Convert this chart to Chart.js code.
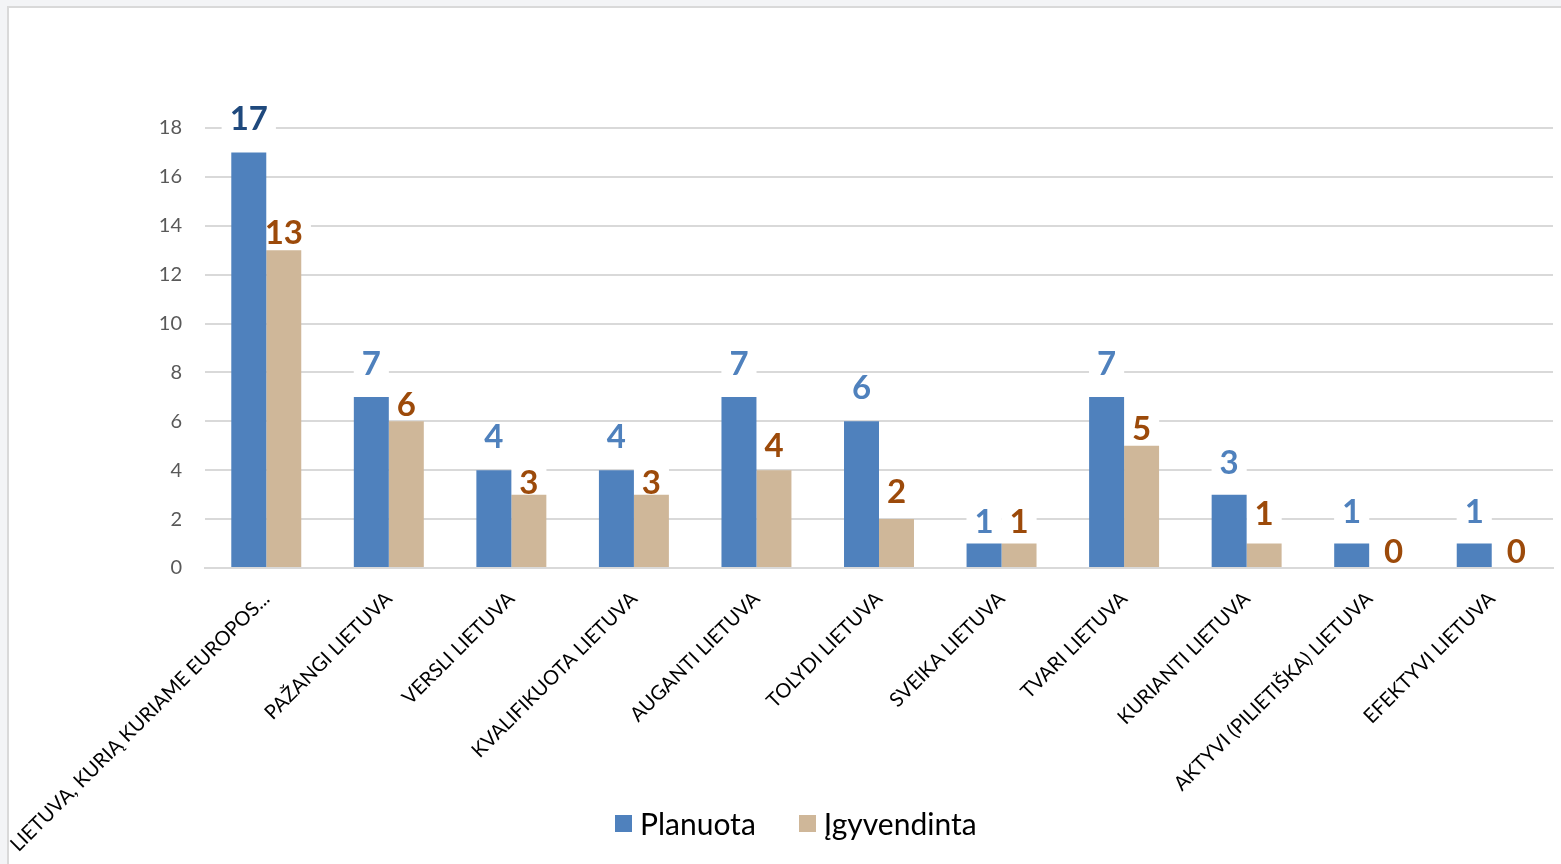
<!DOCTYPE html>
<html>
<head>
<meta charset="utf-8">
<script src="https://cdn.jsdelivr.net/npm/chart.js@4"></script>
<style>
  html, body { margin: 0; padding: 0; background: #f3f4f6; overflow: hidden; }
  #frame {
    position: absolute; left: 7px; top: 6px;
    width: 1560px; height: 864px;
    background: #fff; border: 2px solid #d9d9d9;
  }
  #chart1 { display: block; }
  #legend {
    position: absolute; left: 615px; top: 805px;
    display: flex; align-items: center;
    font-family: Lato, "Open Sans", sans-serif; font-size: 30px; color: #000;
  }
  #legend .item { display: flex; align-items: center; margin-right: 43px; }
  #legend .box { width: 17px; height: 17px; margin-right: 8px; }
</style>
</head>
<body>
<div id="frame"><canvas id="chart1" width="1552" height="856"></canvas></div>
<div id="legend"></div>
<script>
const categories = [
  'LIETUVA, KURIĄ KURIAME EUROPOS...',
  'PAŽANGI LIETUVA',
  'VERSLI LIETUVA',
  'KVALIFIKUOTA LIETUVA',
  'AUGANTI LIETUVA',
  'TOLYDI LIETUVA',
  'SVEIKA LIETUVA',
  'TVARI LIETUVA',
  'KURIANTI LIETUVA',
  'AKTYVI (PILIETIŠKA) LIETUVA',
  'EFEKTYVI LIETUVA'
];
const planuota = [17, 7, 4, 4, 7, 6, 1, 7, 3, 1, 1];
const igyvendinta = [13, 6, 3, 3, 4, 2, 1, 5, 1, 0, 0];
const yTicks = [0, 2, 4, 6, 8, 10, 12, 14, 16, 18];

// how far (px) each value label sits above its bar, as placed in the original
const planuotaLabelGap = [22, 22, 22, 22, 22, 22, 11, 22, 21, 21, 21];
const igyvendintaLabelGap = [6, 5, 1, 1, 13, 16, 11, 6, 19, 5, 5];

const FONT = 'Lato, "Open Sans", sans-serif';
const LABEL_FONT = 'bold 33px ' + FONT;

function labelBoxes(chart, fn) {
  const ctx = chart.ctx;
  chart.data.datasets.forEach((ds, i) => {
    chart.getDatasetMeta(i).data.forEach((bar, j) => {
      const txt = String(ds.data[j]);
      let x = bar.x;
      if (ds.data[j] === 0) x += 7;
      const y = bar.y - ds.labelGap[j];
      fn(ctx, ds, j, txt, x, y);
    });
  });
}

// value labels above the bars
const barLabels = {
  id: 'barLabels',
  beforeDatasetsDraw(chart) {
    const ctx = chart.ctx;
    ctx.save();
    ctx.font = LABEL_FONT;
    ctx.fillStyle = '#fff';
    labelBoxes(chart, (ctx, ds, j, txt, x, y) => {
      const w = ctx.measureText(txt).width;
      ctx.fillRect(x - w / 2 - 8, y - 25, w + 16, 26);
    });
    ctx.restore();
  },
  afterDatasetsDraw(chart) {
    const ctx = chart.ctx;
    ctx.save();
    ctx.font = LABEL_FONT;
    ctx.textAlign = 'center';
    ctx.textBaseline = 'alphabetic';
    labelBoxes(chart, (ctx, ds, j, txt, x, y) => {
      ctx.fillStyle = (ds.labelColors && ds.labelColors[j]) || ds.labelColor;
      ctx.fillText(txt, x, y);
    });
    ctx.restore();
  }
};

const chart = new Chart(document.getElementById('chart1'), {
  type: 'bar',
  data: {
    labels: categories,
    datasets: [{
      label: 'Planuota',
      data: planuota,
      backgroundColor: '#4f81bd',
      labelColor: '#4f81bd',
      labelColors: ['#1f497d'],
      labelGap: planuotaLabelGap,
      barPercentage: 1,
      categoryPercentage: 0.571
    }, {
      label: 'Įgyvendinta',
      data: igyvendinta,
      backgroundColor: '#cfb799',
      labelColor: '#9c4a0a',
      labelGap: igyvendintaLabelGap,
      barPercentage: 1,
      categoryPercentage: 0.571
    }]
  },
  options: {
    responsive: false,
    animation: false,
    layout: { padding: { top: 120, right: 8, left: 0, bottom: 0 } },
    plugins: {
      legend: { display: false },
      tooltip: { enabled: false }
    },
    scales: {
      x: {
        grid: { display: false },
        border: { display: true, color: '#d9d9d9', width: 2 },
        ticks: {
          autoSkip: false,
          minRotation: 45,
          maxRotation: 45,
          padding: 11,
          color: '#000',
          font: { family: FONT, size: 20 }
        },
        afterFit(scale) {
          scale.height = 296;
          // let the long first label run past the left edge like the original
          scale.paddingLeft = 0;
          scale.paddingRight = 0;
        }
      },
      y: {
        min: 0,
        max: 18,
        afterBuildTicks(scale) { scale.ticks = yTicks.map(v => ({ value: v })); },
        grid: { color: '#d9d9d9', lineWidth: 2, drawTicks: false },
        border: { display: false },
        ticks: {
          padding: 23,
          color: '#595959',
          font: { family: FONT, size: 20 }
        },
        afterFit(scale) { scale.width = 196; }
      }
    }
  },
  plugins: [barLabels]
});

// legend under the chart, built from the datasets
const legendEl = document.getElementById('legend');
chart.data.datasets.forEach(ds => {
  const item = document.createElement('div');
  item.className = 'item';
  const box = document.createElement('span');
  box.className = 'box';
  box.style.background = ds.backgroundColor;
  const txt = document.createElement('span');
  txt.textContent = ds.label;
  item.appendChild(box);
  item.appendChild(txt);
  legendEl.appendChild(item);
});
</script>
</body>
</html>
